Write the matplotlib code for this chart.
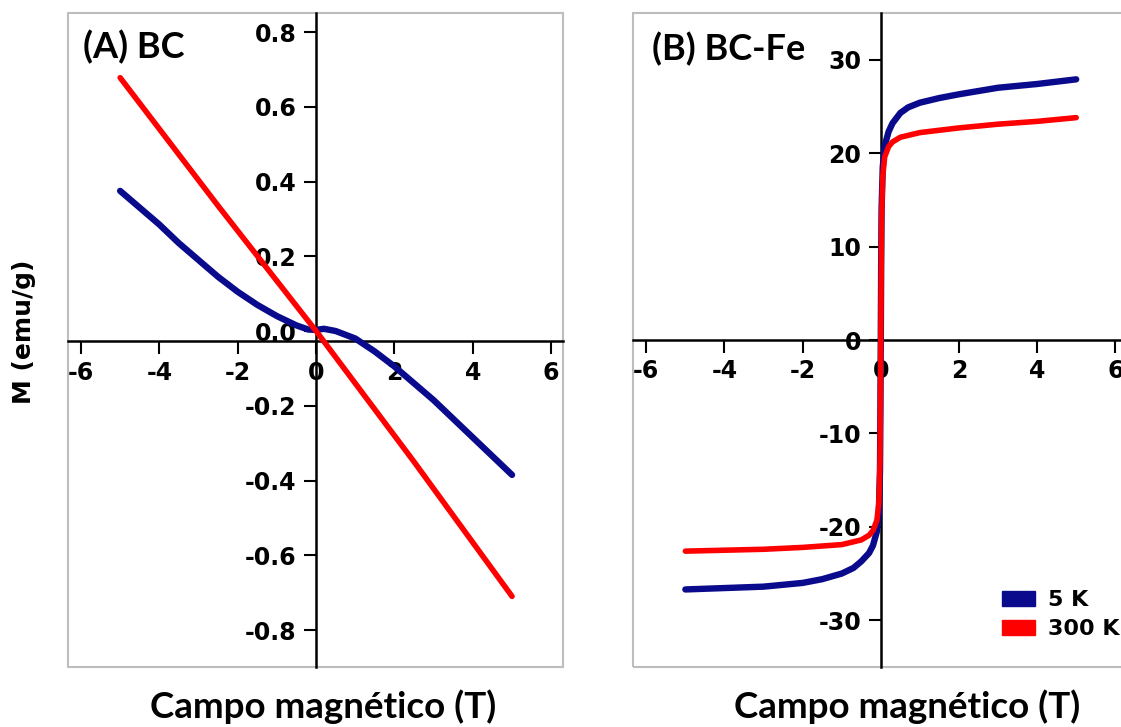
import numpy as np
import matplotlib.pyplot as plt
from matplotlib.patches import Rectangle, Patch

# panel A: BC
bc_x_5k = [-5, -4.5, -4, -3.5, -3, -2.5, -2, -1.5, -1, -0.5, -0.2, 0, 0.2, 0.5, 1, 1.5, 2, 2.5, 3, 3.5, 4, 4.5, 5]
bc_m_5k = [0.375, 0.33, 0.285, 0.235, 0.19, 0.145, 0.105, 0.07, 0.04, 0.015, 0.004, 0.003, 0.006, 0.0,
           -0.02, -0.055, -0.095, -0.14, -0.185, -0.235, -0.285, -0.335, -0.385]
bc_x_300k = [-5, -2.5, 0, 2.5, 5]
bc_m_300k = [0.678, 0.335, 0.0, -0.35, -0.71]

# panel B: BC-Fe
fe_x_5k = [-5, -4, -3, -2, -1.5, -1, -0.7, -0.5, -0.3, -0.2, -0.1, -0.05, -0.02, -0.01, 0,
           0.01, 0.02, 0.05, 0.1, 0.2, 0.3, 0.5, 0.7, 1, 1.5, 2, 3, 4, 5]
fe_m_5k = [-26.7, -26.55, -26.4, -26.0, -25.6, -25.0, -24.4, -23.7, -22.8, -22.0, -20.5, -18.5, -14, -8, 0,
           8, 14, 18.5, 20.8, 22.3, 23.2, 24.3, 24.9, 25.4, 25.9, 26.3, 27.0, 27.4, 27.9]
fe_x_300k = [-5, -4, -3, -2, -1, -0.5, -0.3, -0.2, -0.1, -0.05, -0.02, -0.01, 0,
             0.01, 0.02, 0.05, 0.1, 0.2, 0.3, 0.5, 1, 2, 3, 4, 5]
fe_m_300k = [-22.6, -22.5, -22.4, -22.2, -21.9, -21.4, -20.9, -20.4, -19.3, -17.5, -13, -7, 0,
             7, 13, 17.5, 19.6, 20.7, 21.2, 21.7, 22.2, 22.7, 23.1, 23.4, 23.8]

x_ticks = [-6, -4, -2, 0, 2, 4, 6]
bc_y_ticks = [-0.8, -0.6, -0.4, -0.2, 0.0, 0.2, 0.4, 0.6, 0.8]
fe_y_ticks = [-30, -20, -10, 0, 10, 20, 30]

blue = '#0a0a8c'
red = '#ff0000'

plt.rcParams['font.family'] = 'DejaVu Sans'
plt.rcParams['font.weight'] = 'bold'
plt.rcParams['axes.unicode_minus'] = False

fig = plt.figure(figsize=(11.21, 7.27), dpi=100)
W, H = 1121, 727
axA = fig.add_axes([68 / W, (H - 667) / H, 495 / W, 654 / H])
axB = fig.add_axes([633 / W, (H - 667) / H, 494 / W, 654 / H])


def style(ax, xaxis_at):
    ax.spines['top'].set_visible(False)
    ax.spines['right'].set_visible(False)
    ax.spines['left'].set_position(('data', 0))
    ax.spines['bottom'].set_position(('data', xaxis_at))
    for s in ['left', 'bottom']:
        ax.spines[s].set_linewidth(1.8)
        ax.spines[s].set_zorder(1)
    ax.tick_params(direction='out', length=9, width=1.5, labelsize=17, pad=5)
    ax.set_axisbelow(True)
    ax.add_patch(Rectangle((0, 0), 1, 1, transform=ax.transAxes, fill=False,
                           ec='#bdbdbd', lw=1.5, clip_on=False, zorder=0))
    ax.set_xticks(x_ticks)
    ax.set_xticklabels([str(t) for t in x_ticks])


axA.plot(bc_x_5k, bc_m_5k, color=blue, lw=4.6, solid_capstyle='round', zorder=3)
axA.plot(bc_x_300k, bc_m_300k, color=red, lw=4, solid_capstyle='round', zorder=4)
axA.set_xlim(-6.33, 6.3)
axA.set_ylim(-0.899, 0.851)
style(axA, -0.027)
axA.set_yticks(bc_y_ticks)
axA.set_yticklabels(['%.1f' % t for t in bc_y_ticks])
axA.text(0.03, 0.948, '(A) BC', transform=axA.transAxes, ha='left', va='center',
         fontsize=26, fontweight='bold', family='Lato')

axB.plot(fe_x_5k, fe_m_5k, color=blue, lw=4.6, solid_capstyle='round', zorder=3)
axB.plot(fe_x_300k, fe_m_300k, color=red, lw=4, solid_capstyle='round', zorder=4)
axB.set_xlim(-6.34, 6.3)
axB.set_ylim(-35, 35)
style(axB, 0)
axB.set_yticks(fe_y_ticks)
axB.set_yticklabels([str(t) for t in fe_y_ticks])
axB.text(0.038, 0.945, '(B) BC-Fe', transform=axB.transAxes, ha='left', va='center',
         fontsize=26, fontweight='bold', family='Lato')

handles = [Patch(color=blue, label='5 K'), Patch(color=red, label='300 K')]
fig.legend(handles=handles, loc='upper left', bbox_to_anchor=(1002 / W, 1 - 590 / H),
           frameon=False, borderpad=0, borderaxespad=0,
           handlelength=1.5, handleheight=0.65, handletextpad=0.55, labelspacing=0.4,
           prop={'weight': 'bold', 'size': 16})

fig.text(323 / W, 1 - 707 / H, 'Campo magnético (T)', ha='center', va='center',
         fontsize=26.5, fontweight='bold', family='Lato')
fig.text(907 / W, 1 - 707 / H, 'Campo magnético (T)', ha='center', va='center',
         fontsize=26.5, fontweight='bold', family='Lato')
fig.text(24 / W, 1 - 332 / H, 'M (emu/g)', ha='center', va='center', rotation=90,
         fontsize=18, fontweight='bold')

fig.savefig('out.png', dpi=100)
